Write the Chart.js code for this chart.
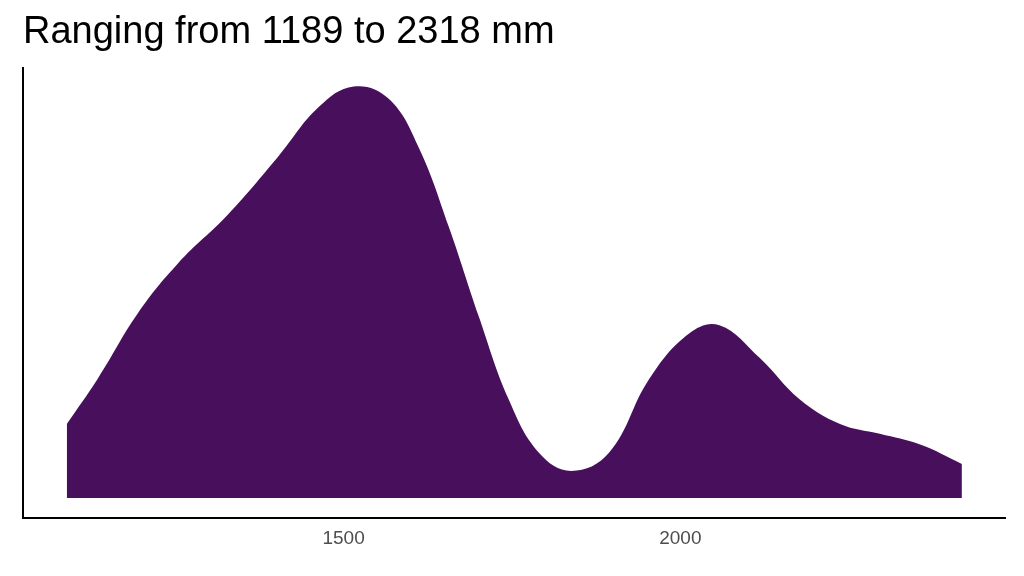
<!DOCTYPE html>
<html><head><meta charset="utf-8">
<script src="https://cdn.jsdelivr.net/npm/chart.js@4/dist/chart.umd.min.js"></script>
<style>html,body{margin:0;background:#fff}#w{width:1024px;height:576px}</style>
</head><body><div id="w"><canvas id="c"></canvas></div>
<script>
const xs=[1089,1135,1195,1254,1329,1403,1463,1515,1567,1612,1656,1701,1745,1790,1838,1894,1954,2013,2058,2118,2177,2237,2296,2356,2418];
const dens=[0.18,0.29,0.45,0.57,0.69,0.83,0.95,1.0,0.97,0.85,0.66,0.44,0.24,0.11,0.066,0.11,0.29,0.40,0.42,0.34,0.24,0.18,0.156,0.13,0.083];
const tickVals=[1500,2000];
const titleText="Ranging from 1189 to 2318 mm";
new Chart(document.getElementById('c'),{
type:'line',
data:{datasets:[{data:xs.map((x,i)=>({x:x,y:dens[i]})),fill:'origin',backgroundColor:'#48105C',borderWidth:0,pointRadius:0,tension:0.4}]},
options:{responsive:true,maintainAspectRatio:false,animation:false,
layout:{padding:{left:23,right:19,top:0,bottom:22}},
plugins:{legend:{display:false},tooltip:{enabled:false},
title:{display:true,text:titleText,align:'start',color:'#000',font:{family:'Liberation Sans',size:38,weight:'normal'},padding:{top:10,bottom:12}}},
scales:{
x:{type:'linear',min:1024,max:2482,afterBuildTicks:a=>{a.ticks=tickVals.map(v=>({value:v}))},
grid:{display:false,drawTicks:true,tickLength:5,tickColor:'#333'},border:{color:'#000',width:2},
ticks:{color:'#4d4d4d',font:{family:'Liberation Sans',size:19},padding:4,callback:v=>String(v)}},
y:{min:-0.049,max:1.046,ticks:{display:false},grid:{display:false,drawTicks:false},border:{color:'#000',width:2}}
}}});
</script></body></html>
